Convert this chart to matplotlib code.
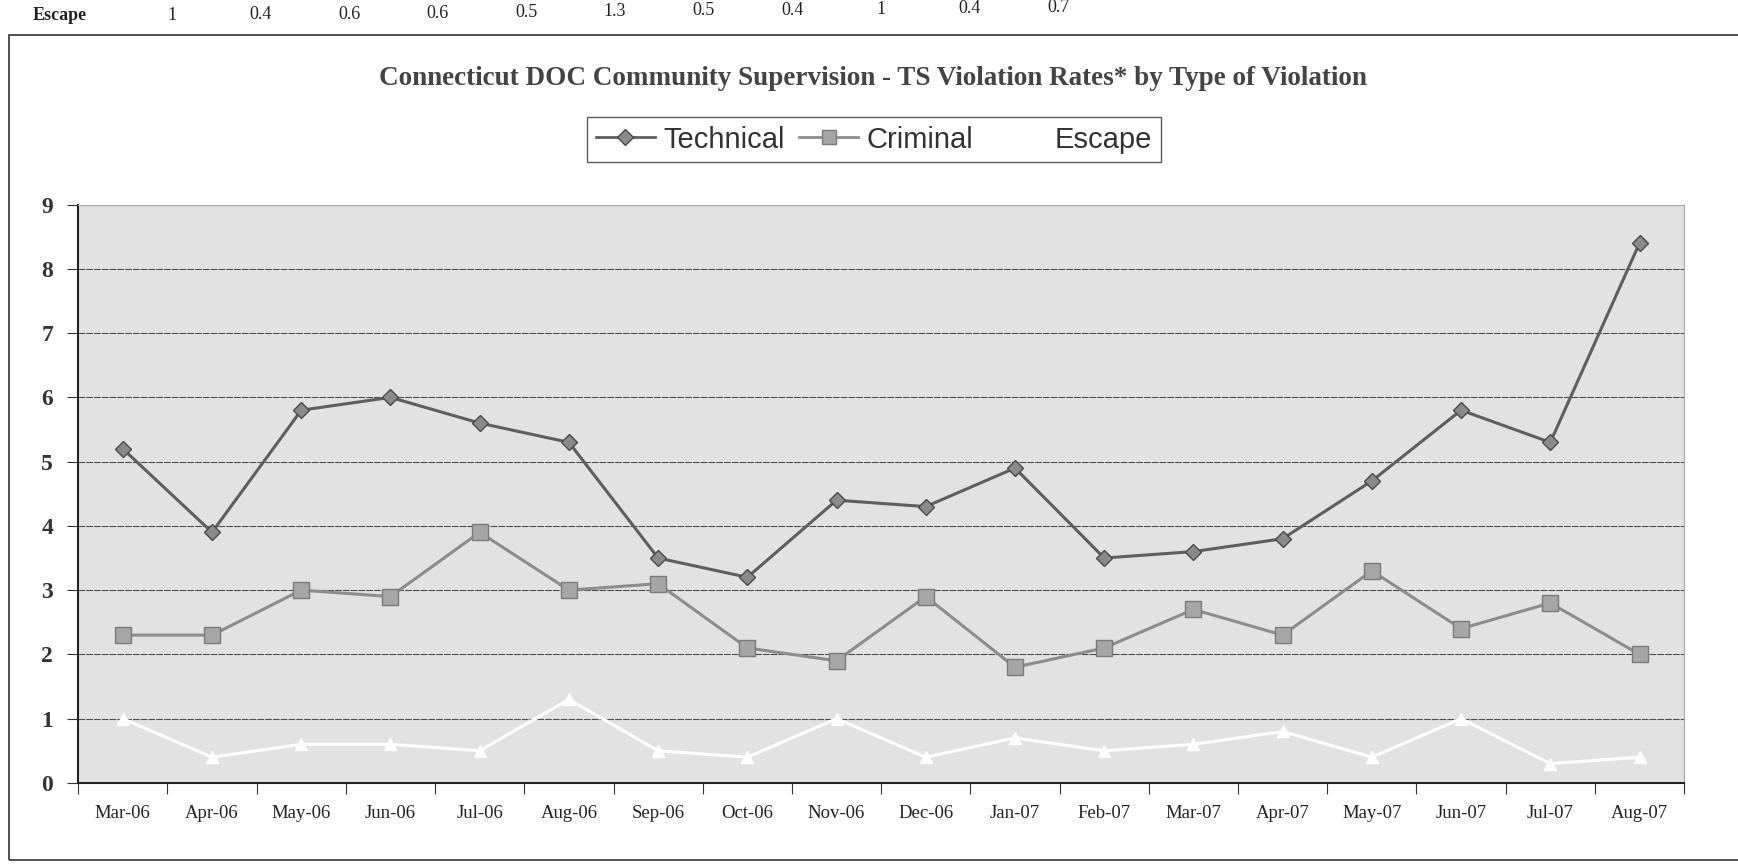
import numpy as np
import matplotlib.pyplot as plt
from matplotlib.lines import Line2D
from matplotlib.patches import Rectangle

# Data

months = ['Mar-06', 'Apr-06', 'May-06', 'Jun-06', 'Jul-06', 'Aug-06', 'Sep-06',
          'Oct-06', 'Nov-06', 'Dec-06', 'Jan-07', 'Feb-07', 'Mar-07', 'Apr-07',
          'May-07', 'Jun-07', 'Jul-07', 'Aug-07']

technical = [5.2, 3.9, 5.8, 6.0, 5.6, 5.3, 3.5, 3.2, 4.4, 4.3, 4.9, 3.5,
             3.6, 3.8, 4.7, 5.8, 5.3, 8.4]
criminal = [2.3, 2.3, 3.0, 2.9, 3.9, 3.0, 3.1, 2.1, 1.9, 2.9, 1.8, 2.1,
            2.7, 2.3, 3.3, 2.4, 2.8, 2.0]
escape = [1.0, 0.4, 0.6, 0.6, 0.5, 1.3, 0.5, 0.4, 1.0, 0.4, 0.7, 0.5,
          0.6, 0.8, 0.4, 1.0, 0.3, 0.4]

# row of the table above the chart (cut off by the scan)
escape_labels = ['1', '0.4', '0.6', '0.6', '0.5', '1.3', '0.5', '0.4', '1',
                 '0.4', '0.7']

y_ticks = list(range(0, 10))

title = 'Connecticut DOC Community Supervision - TS Violation Rates* by Type of Violation'

serif = ['Liberation Serif', 'DejaVu Serif']
sans = ['Liberation Sans', 'DejaVu Sans']

fig = plt.figure(figsize=(17.38, 8.67), dpi=100)
fig.patch.set_facecolor('white')

# scanned page: outer frame and table row above
fig.patches.append(Rectangle((0.005, 0.008), 1.2, 0.952, transform=fig.transFigure,
                             fill=False, edgecolor='#333333', lw=1.2))
fig.text(0.019, 0.982, 'Escape', family=serif, fontsize=13, fontweight='bold',
         va='center', ha='left', color='#222222')
for i, lab in enumerate(escape_labels):
    xf = (172 + 88.6 * i) / 1738
    yf = 0.982 + 0.009 * 88.6 * i / 867
    fig.text(xf, yf, lab, family=serif, fontsize=13, va='center', ha='center',
             color='#222222')

ax = fig.add_axes([0.045, 0.097, 0.924, 0.667])
ax.set_facecolor('#e2e2e2')

x = np.arange(len(months))

ax.plot(x, escape, color='white', lw=2.2, marker='^', markersize=9,
        markerfacecolor='white', markeredgecolor='white', zorder=3)
ax.plot(x, criminal, color='#8c8c8c', lw=2.2, marker='s', markersize=11,
        markerfacecolor='#a6a6a6', markeredgecolor='#7a7a7a', zorder=4)
ax.plot(x, technical, color='#5e5e5e', lw=2.2, marker='D', markersize=8.5,
        markerfacecolor='#8a8a8a', markeredgecolor='#4a4a4a', zorder=5)

ax.set_xlim(-0.5, len(months) - 0.5)
ax.set_ylim(0, 9)
ax.set_yticks(y_ticks)
ax.set_yticklabels([str(v) for v in y_ticks], family=serif, fontsize=17,
                   fontweight='bold', color='#333333')
ax.yaxis.grid(True, color='#4d4d4d', lw=0.8, linestyle=(0, (6, 1)))
ax.set_axisbelow(True)

ax.set_xticks(np.arange(-0.5, len(months), 1.0))
ax.set_xticklabels([])
ax.set_xticks(x, minor=True)
ax.set_xticklabels(months, minor=True, family=serif, fontsize=13.5, color='#222222')
ax.tick_params(axis='x', which='major', direction='out', length=8, color='#333333')
ax.tick_params(axis='x', which='minor', length=0, pad=16)
ax.tick_params(axis='y', direction='out', length=8, color='#333333', pad=10)

for side in ['left', 'bottom']:
    ax.spines[side].set_color('#222222')
    ax.spines[side].set_linewidth(1.5)
for side in ['top', 'right']:
    ax.spines[side].set_color('#aaaaaa')
    ax.spines[side].set_linewidth(0.8)

fig.text(0.502, 0.91, title, family=serif, fontsize=19.5, fontweight='bold',
         ha='center', va='center', color='#444444')

handles = [
    Line2D([], [], color='#5e5e5e', lw=2, marker='D', markersize=8,
           markerfacecolor='#8a8a8a', markeredgecolor='#4a4a4a'),
    Line2D([], [], color='#8c8c8c', lw=2, marker='s', markersize=10,
           markerfacecolor='#a6a6a6', markeredgecolor='#7a7a7a'),
    Line2D([], [], color='white', lw=2, marker='^', markersize=9,
           markerfacecolor='white', markeredgecolor='white'),
]
leg = fig.legend(handles, ['Technical', 'Criminal', 'Escape'], loc='center',
                 bbox_to_anchor=(0.503, 0.839), ncol=3, frameon=True,
                 prop={'family': sans, 'size': 21}, fancybox=False,
                 edgecolor='#333333', handlelength=2.0, columnspacing=0.5,
                 handletextpad=0.3, borderpad=0.3)
leg.get_frame().set_linewidth(1.0)
for t in leg.get_texts():
    t.set_color('#333333')

fig.savefig('out.png', dpi=100)
